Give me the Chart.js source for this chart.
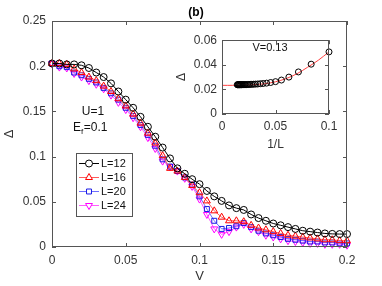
<!DOCTYPE html>
<html>
<head>
<meta charset="utf-8">
<script src="https://cdn.jsdelivr.net/npm/chart.js@4.4.0/dist/chart.umd.min.js"></script>
<style>
  html, body { margin: 0; padding: 0; background: #fff; }
  #wrap { position: relative; width: 382px; height: 286px; }
  #main { position: absolute; left: 0; top: 0; }
  #inset { position: absolute; left: 170px; top: 28px; }
</style>
</head>
<body>
<div id="wrap">
  <canvas id="main" width="382" height="286"></canvas>
  <canvas id="inset" width="175" height="130"></canvas>
</div>
<script>
// main panel: gap vs hybridization V
const V = [0, 0.005, 0.01, 0.015, 0.02, 0.025, 0.03, 0.035, 0.04, 0.045,
           0.05, 0.055, 0.06, 0.065, 0.07, 0.075, 0.08, 0.085, 0.09, 0.095,
           0.1, 0.105, 0.11, 0.115, 0.12, 0.125, 0.13, 0.135, 0.14, 0.145,
           0.15, 0.155, 0.16, 0.165, 0.17, 0.175, 0.18, 0.185, 0.19, 0.195, 0.2];
const L12 = [.203,.203,.202,.202,.201,.198,.193,.188,.181,.172,
             .163,.154,.144,.133,.122,.110,.098,.087,.081,.075,
             .0695,.062,.056,.051,.046,.043,.041,.036,.032,.029,
             .026,.024,.022,.020,.018,.017,.016,.015,.0145,.0143,.0143];
const L16 = [.203,.203,.202,.197,.193,.188,.184,.178,.172,.164,
             .156,.147,.137,.126,.115,.101,.087,.084,.077,.068,
             .060,.051,.040,.033,.029,.029,.028,.024,.021,.019,
             .017,.015,.013,.012,.011,.010,.009,.008,.008,.007,.007];
const L20 = [.203,.200,.199,.193,.190,.186,.182,.176,.170,.163,
             .154,.145,.135,.124,.112,.097,.089,.084,.077,.069,
             .056,.042,.029,.020,.021,.023,.0265,.022,.018,.015,
             .013,.011,.009,.008,.007,.006,.006,.005,.005,.004,.004];
const L24 = [.203,.199,.198,.192,.188,.184,.180,.175,.168,.160,
             .152,.143,.133,.121,.109,.095,.089,.084,.076,.067,
             .053,.036,.020,.014,.017,.022,.025,.020,.017,.013,
             .011,.009,.007,.006,.005,.004,.004,.003,.003,.003,.002];
const X_TICKS = [0, 0.05, 0.1, 0.15, 0.2];
const Y_TICKS = [0, 0.05, 0.1, 0.15, 0.2, 0.25];

// inset: finite-size scaling at V=0.13
const SIZES_L = [10,12,14,16,18,20,22,24,26,28,30,32,34,36,38,40,
                 42,44,46,48,50,52,54,56,58,60,62,64,66,68,70];
const GAP_L = [.0505,.0405,.0342,.0300,.0276,.0263,.0256,.0251,.0248,.0246,
               .0244,.0243,.0242,.0241,.0241,.0240,.0240,.0239,.0239,.0239,
               .0239,.0239,.0238,.0238,.0238,.0238,.0238,.0238,.0238,.0238,.0238];
const FIT_X = [0, 0.01, 0.02, 0.03, 0.04, 0.05, 0.06, 0.07, 0.08, 0.09, 0.1];
const FIT_Y = [.0233,.0233,.0234,.0238,.0246,.0262,.0288,.0327,.0380,.0437,.0505];
const INSET_X_TICKS = [0, 0.05, 0.1];
const INSET_Y_TICKS = [0, 0.02, 0.04, 0.06];

const FONT = 'Liberation Sans, Arial, sans-serif';
const TXT = '#333';
const FRAME = '#555';

const fmt = v => String(+Number(v).toFixed(3));
const pts = (xs, ys) => xs.map((x, i) => ({ x: x, y: ys[i] }));

// frame with inward ticks on all four sides
const frameTicks = {
    id: 'frameTicks',
    afterDraw(chart) {
        const { ctx, chartArea: a, scales: { x, y } } = chart;
        const len = 4;
        ctx.save();
        ctx.strokeStyle = FRAME;
        ctx.lineWidth = 1;
        ctx.strokeRect(Math.round(a.left) + 0.5, Math.round(a.top) + 0.5,
                       Math.round(a.width) - 1, Math.round(a.height) - 1);
        ctx.beginPath();
        x.ticks.forEach(t => {
            const px = Math.round(x.getPixelForValue(t.value)) + 0.5;
            ctx.moveTo(px, a.bottom); ctx.lineTo(px, a.bottom - len);
            ctx.moveTo(px, a.top); ctx.lineTo(px, a.top + len);
        });
        y.ticks.forEach(t => {
            const py = Math.round(y.getPixelForValue(t.value)) + 0.5;
            ctx.moveTo(a.left, py); ctx.lineTo(a.left + len, py);
            ctx.moveTo(a.right, py); ctx.lineTo(a.right - len, py);
        });
        ctx.stroke();
        ctx.restore();
    }
};

const SERIES = [
    { label: 'L=12', data: L12, color: '#000000', line: '#000000', style: 'circle', r: 3.5, rot: 0 },
    { label: 'L=16', data: L16, color: '#ff0000', line: '#ff5a5a', style: 'triangle', r: 4, rot: 0 },
    { label: 'L=20', data: L20, color: '#1a1ae6', line: '#6e6eff', style: 'rect', r: 3.5, rot: 0 },
    { label: 'L=24', data: L24, color: '#ff00ff', line: '#ff5cff', style: 'triangle', r: 4, rot: 180 }
];

// legend box + text annotations for the main panel
const mainDecor = {
    id: 'mainDecor',
    afterDraw(chart) {
        const ctx = chart.ctx;
        ctx.save();
        ctx.fillStyle = '#000';
        ctx.textAlign = 'center';
        ctx.textBaseline = 'middle';
        ctx.font = 'bold 12px ' + FONT;
        ctx.fillText('(b)', 196, 13);

        ctx.font = '12px ' + FONT;
        ctx.fillStyle = '#111';
        ctx.fillText('U=1', 93, 112);
        ctx.textAlign = 'left';
        ctx.fillText('E', 73, 128);
        const ew = ctx.measureText('E').width;
        ctx.font = '8px ' + FONT;
        ctx.fillText('f', 73 + ew, 132);
        const fw = ctx.measureText('f').width;
        ctx.font = '12px ' + FONT;
        ctx.fillText('=0.1', 73 + ew + fw + 0.5, 128);

        // legend
        ctx.fillStyle = '#fff';
        ctx.fillRect(76, 153, 56, 63);
        ctx.strokeStyle = FRAME;
        ctx.lineWidth = 1;
        ctx.strokeRect(76.5, 153.5, 56, 63);
        ctx.font = '11px ' + FONT;
        ctx.textBaseline = 'middle';
        SERIES.forEach((s, i) => {
            const yy = 163.5 + i * 14;
            ctx.strokeStyle = s.line;
            ctx.beginPath();
            ctx.moveTo(79, yy); ctx.lineTo(99, yy);
            ctx.stroke();
            ctx.strokeStyle = s.color;
            ctx.fillStyle = '#fff';
            Chart.helpers.drawPoint(ctx, { pointStyle: s.style, radius: s.r, rotation: s.rot, borderWidth: 1 }, 89, yy);
            ctx.fillStyle = '#111';
            ctx.fillText(s.label, 101, yy + 0.5);
        });
        ctx.restore();
    }
};

new Chart(document.getElementById('main'), {
    type: 'line',
    data: {
        datasets: SERIES.map(s => ({
            label: s.label,
            data: pts(V, s.data),
            borderColor: s.line,
            borderWidth: 1,
            pointStyle: s.style,
            pointRadius: s.r,
            pointRotation: s.rot,
            pointBorderColor: s.color,
            pointBackgroundColor: 'rgba(0,0,0,0)',
            pointBorderWidth: 1,
            tension: 0,
            clip: false
        }))
    },
    options: {
        responsive: false,
        animation: false,
        layout: { padding: { top: 21, right: 35, left: 0, bottom: 0 } },
        plugins: { legend: { display: false }, tooltip: { enabled: false } },
        scales: {
            x: {
                type: 'linear', min: 0, max: 0.2,
                afterBuildTicks: s => { s.ticks = X_TICKS.map(v => ({ value: v })); },
                afterFit: s => { s.height = 39; },
                grid: { display: false, drawTicks: false },
                border: { display: false },
                ticks: { color: TXT, font: { family: FONT, size: 12 }, padding: 6, callback: fmt, maxRotation: 0 },
                title: { display: true, text: 'V', color: TXT, font: { family: FONT, size: 13 }, padding: { top: 0, bottom: 2 } }
            },
            y: {
                type: 'linear', min: 0, max: 0.25,
                afterBuildTicks: s => { s.ticks = Y_TICKS.map(v => ({ value: v })); },
                afterFit: s => { s.width = 52; },
                grid: { display: false, drawTicks: false },
                border: { display: false },
                ticks: { color: TXT, font: { family: FONT, size: 12 }, padding: 6, callback: fmt },
                title: { display: true, text: 'Δ', color: TXT, font: { family: FONT, size: 13 }, padding: { top: 2, bottom: 0 } }
            }
        }
    },
    plugins: [frameTicks, mainDecor]
});

const insetDecor = {
    id: 'insetDecor',
    beforeDraw(chart) {
        const { ctx, chartArea: a } = chart;
        ctx.save();
        ctx.fillStyle = '#fff';
        ctx.fillRect(a.left, a.top, a.width, a.height);
        ctx.restore();
    },
    afterDraw(chart) {
        const ctx = chart.ctx;
        ctx.save();
        ctx.fillStyle = '#111';
        ctx.font = '11px ' + FONT;
        ctx.textAlign = 'center';
        ctx.textBaseline = 'middle';
        ctx.fillText('V=0.13', 100, 20);
        ctx.restore();
    }
};

new Chart(document.getElementById('inset'), {
    type: 'scatter',
    data: {
        datasets: [
            {
                data: pts(SIZES_L.map(l => 1 / l), GAP_L),
                showLine: false,
                pointStyle: 'circle',
                pointRadius: 3,
                pointBorderColor: '#000',
                pointBackgroundColor: 'rgba(0,0,0,0)',
                pointBorderWidth: 1,
                clip: false
            },
            {
                data: pts(FIT_X, FIT_Y),
                showLine: true,
                borderColor: '#ff4040',
                borderWidth: 1,
                pointRadius: 0,
                tension: 0.3,
                clip: false
            }
        ]
    },
    options: {
        responsive: false,
        animation: false,
        layout: { padding: { top: 6, right: 16, left: 0, bottom: 0 } },
        plugins: { legend: { display: false }, tooltip: { enabled: false } },
        scales: {
            x: {
                type: 'linear', min: 0, max: 0.1,
                afterBuildTicks: s => { s.ticks = INSET_X_TICKS.map(v => ({ value: v })); },
                afterFit: s => { s.height = 44; },
                grid: { display: false, drawTicks: false },
                border: { display: false },
                ticks: { color: TXT, font: { family: FONT, size: 12 }, padding: 5, callback: fmt, maxRotation: 0 },
                title: { display: true, text: '1/L', color: TXT, font: { family: FONT, size: 12 }, padding: { top: 2, bottom: 6 } }
            },
            y: {
                type: 'linear', min: 0, max: 0.06,
                afterBuildTicks: s => { s.ticks = INSET_Y_TICKS.map(v => ({ value: v })); },
                afterFit: s => { s.width = 52; },
                grid: { display: false, drawTicks: false },
                border: { display: false },
                ticks: { color: TXT, font: { family: FONT, size: 12 }, padding: 5, callback: fmt },
                title: { display: true, text: 'Δ', color: TXT, font: { family: FONT, size: 12 }, padding: { top: 4, bottom: 0 } }
            }
        }
    },
    plugins: [insetDecor, frameTicks]
});
</script>
</body>
</html>
